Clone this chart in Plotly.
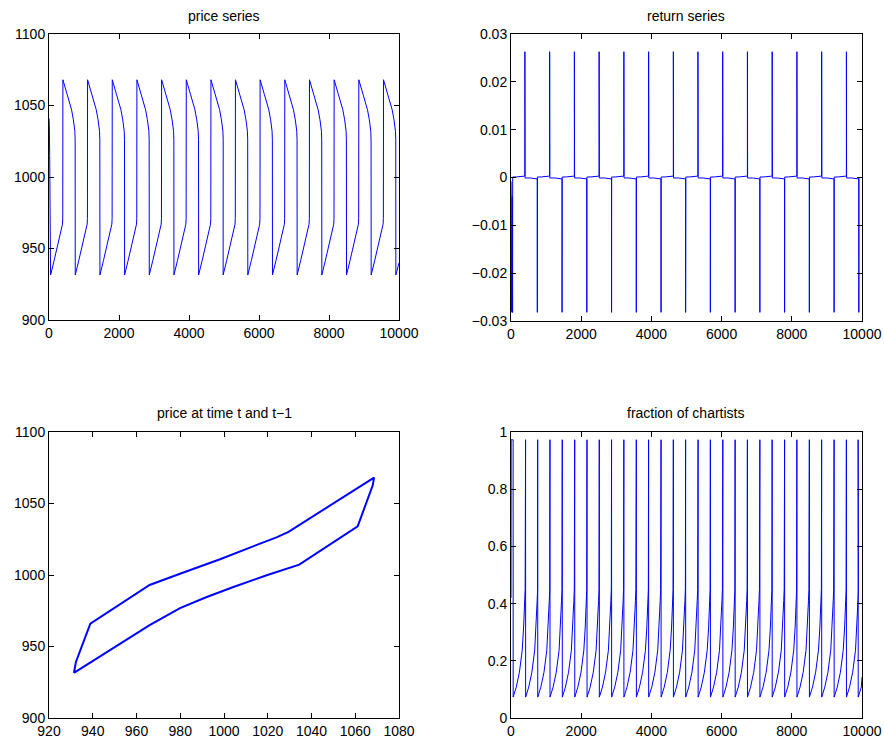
import numpy as np
import plotly.graph_objects as go

T_END = 10000

# ---- price series ---------------------------------------------------------
# start of the run, before the first trough
price_start_t = [0, 10, 20, 32]
price_start_p = [1041, 1036, 1015, 960]
# troughs of the price cycle
price_trough_t = [45, 750, 1455, 2160, 2865, 3570, 4275, 4975, 5680, 6385,
                  7090, 7795, 8500, 9205, 9910]
# one cycle, measured from its trough: slow rise, jump, slow decline, crash
cycle_off = [0, 100, 200, 280, 320, 340, 348, 352, 476, 600, 652, 682, 694, 702]
cycle_price = [931.5, 941.5, 951.5, 959, 963.5, 967, 971, 1068,
               1057.5, 1047, 1040, 1035, 1032, 1026]

# ---- return series --------------------------------------------------------
ret_start_t = [0, 8, 16, 22, 28, 36]
ret_start_r = [-0.0008, -0.006, -0.028, -0.012, -0.0282, -0.004]
# returns over one cycle, measured from the crash at the trough
ret_off = [0, 3, 120, 300, 345, 350, 351, 353, 356, 500, 650, 700, 703]
ret_val = [-0.0282, 0.0001, 0.00012, 0.0002, 0.0003, 0.0003, 0.0263,
           -0.0001, -0.0001, -0.0001, -0.0002, -0.0003, -0.0003]

# ---- fraction of chartists ------------------------------------------------
frac_start_t = [0, 5, 50]
frac_start_v = [0.42, 0.973, 0.973]
frac_spike_t = [60, 415, 760, 1110, 1460, 1815, 2165, 2515, 2865, 3215, 3570,
                3920, 4275, 4625, 4975, 5330, 5680, 6035, 6385, 6735, 7090,
                7440, 7795, 8145, 8500, 8850, 9205, 9555, 9890]
frac_off = [0, 2, 90, 180, 260, 300, 330, 343]
frac_val = [0.973, 0.073, 0.108, 0.16, 0.237, 0.318, 0.41, 0.45]

# ---- price at time t and t-1 (closed loop) ---------------------------------
lag_x = [931.4, 932.3, 938.9, 966.0, 979.9, 998.2, 1016.5, 1024.0, 1029.5,
         1034.7, 1068.6, 1068.0, 1061.1, 1034.4, 1019.5, 1004.3, 992.1, 979.9,
         969.2, 966.0, 931.4]
lag_y = [931.5, 939.2, 966.0, 993.0, 1000.9, 1011.0, 1021.9, 1026.3, 1030.2,
         1035.2, 1068.1, 1062.7, 1034.0, 1007.2, 999.8, 991.6, 984.6, 976.9,
         968.0, 965.0, 931.5]


def repeat_cycle(start_t, start_v, anchors, offs, vals):
    t = list(start_t)
    v = list(start_v)
    for a in anchors:
        for o, val in zip(offs, vals):
            if a + o <= T_END:
                t.append(a + o)
                v.append(val)
    return np.array(t), np.array(v)


price_t, price_p = repeat_cycle(price_start_t, price_start_p, price_trough_t,
                                cycle_off, cycle_price)
price_t = np.append(price_t, T_END)
price_p = np.append(price_p, 940)

ret_t, ret_r = repeat_cycle(ret_start_t, ret_start_r, price_trough_t,
                            ret_off, ret_val)
frac_t, frac_v = repeat_cycle(frac_start_t, frac_start_v, frac_spike_t,
                              frac_off, frac_val)
frac_t = np.append(frac_t, T_END)
frac_v = np.append(frac_v, 0.143)

BLUE = "#0000ff"
FONT = "Liberation Sans, Arial, Helvetica, sans-serif"
FSIZE = 14

fig = go.Figure()
fig.add_trace(go.Scatter(x=price_t, y=price_p, mode="lines",
                         line=dict(color=BLUE, width=1), xaxis="x", yaxis="y"))
fig.add_trace(go.Scatter(x=ret_t, y=ret_r, mode="lines",
                         line=dict(color=BLUE, width=1), xaxis="x2", yaxis="y2"))
fig.add_trace(go.Scatter(x=lag_x, y=lag_y, mode="lines",
                         line=dict(color=BLUE, width=2), xaxis="x3", yaxis="y3"))
fig.add_trace(go.Scatter(x=frac_t, y=frac_v, mode="lines",
                         line=dict(color=BLUE, width=1), xaxis="x4", yaxis="y4"))

W, H = 884, 744
boxes = {  # left, right, top, bottom in pixels
    "": (49, 399, 34, 320),
    "2": (511, 862, 34, 321),
    "3": (49, 399, 432, 718),
    "4": (511, 862, 432, 718),
}
axis_common = dict(showline=True, linecolor="black", linewidth=1,
                   mirror="ticks", ticks="inside", ticklen=5,
                   tickcolor="black", showgrid=False, zeroline=False,
                   automargin=False,
                   tickfont=dict(family=FONT, size=FSIZE, color="black"))
xr = {"": ([0, 10000], 2000), "2": ([0, 10000], 2000),
      "3": ([920, 1080], 20), "4": ([0, 10000], 2000)}
yr = {"": ([900, 1100], 50), "2": ([-0.03, 0.03], 0.01),
      "3": ([900, 1100], 50), "4": ([0, 1], 0.2)}
layout = {}
for k, (l, r, t, b) in boxes.items():
    layout["xaxis" + k] = dict(axis_common, domain=[l / W, r / W],
                               range=xr[k][0], dtick=xr[k][1],
                               tickformat="d", anchor="y" + k)
    layout["yaxis" + k] = dict(axis_common, domain=[1 - b / H, 1 - t / H],
                               range=yr[k][0], dtick=yr[k][1],
                               anchor="x" + k)
fig.update_layout(**layout)

titles = [("price series", 224, 16), ("return series", 686, 16),
          ("price at time t and t\u22121", 224, 413),
          ("fraction of chartists", 686, 413)]
for text, cx, cy in titles:
    fig.add_annotation(text=text, x=cx / W, y=1 - cy / H, xref="paper",
                       yref="paper", showarrow=False, xanchor="center",
                       yanchor="middle",
                       font=dict(family=FONT, size=FSIZE, color="black"))

fig.update_layout(width=W, height=H, margin=dict(l=0, r=0, t=0, b=0),
                  showlegend=False, paper_bgcolor="white",
                  plot_bgcolor="white")
fig.write_html("out.html")
